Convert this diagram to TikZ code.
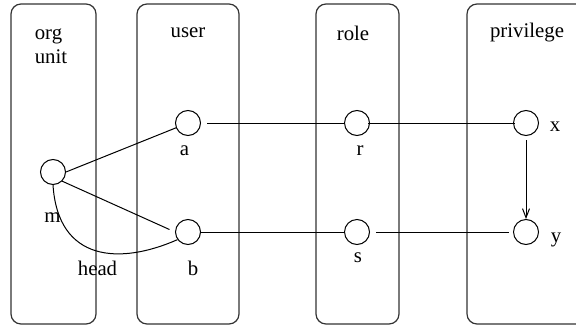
\documentclass[tikz,border=0pt]{standalone}
\usepackage{fontspec}
\setmainfont{Liberation Serif}
\usetikzlibrary{arrows.meta}
\begin{document}
\begin{tikzpicture}[x=0.5pt,y=-0.5pt,
  lane/.style={draw=black!80,line width=0.6pt,rounded corners=5pt},
  ent/.style={circle,draw,line width=0.5pt,minimum size=12.5pt,inner sep=0pt},
  lbl/.style={inner sep=0pt,font=\fontsize{10.4}{12}\selectfont},
  conn/.style={line width=0.5pt},
  every node/.style={font=\fontsize{10.4}{12}\selectfont}]
\useasboundingbox (0,0) rectangle (576,326);
\begin{scope}
\clip (0,0) rectangle (576,326);
\draw[lane] (11,4) rectangle (96,324);
\draw[lane] (137,4) rectangle (239,324);
\draw[lane] (316,4) rectangle (399,324);
\draw[lane] (467,4) rectangle (590,324);
\end{scope}
% titles
\node[lbl,align=left] (torg) at (51,46) {org\\unit};
\node[lbl] (tuser) at (188,33) {user};
\node[lbl] (trole) at (353,33) {role};
\node[lbl] (tpriv) at (527,33) {privilege};
% entities
\node[ent] (m) at (53,172) {};
\node[ent] (a) at (188,123) {};
\node[ent] (b) at (188,232) {};
\node[ent] (r) at (357,123) {};
\node[ent] (s) at (357,232) {};
\node[ent] (x) at (526,123) {};
\node[ent] (y) at (526,232) {};
% labels
\node[lbl] (lm) at (52.5,218) {m};
\node[lbl] (la) at (184.5,151) {a};
\node[lbl] (lb) at (193,268) {b};
\node[lbl] (lr) at (360,151) {r};
\node[lbl] (ls) at (358,258) {s};
\node[lbl] (lx) at (555,127) {x};
\node[lbl] (ly) at (556,240) {y};
\node[lbl] (lhead) at (97.5,268) {head};
% connectors
\draw[conn] (m.east) -- (a);
\draw[conn,shorten >=3pt] (m.-45) -- (b.west);
\draw[conn] (m.south) .. controls (58,262) and (120,265) .. (b.216);
\draw[conn,shorten <=3pt] (a) -- (r);
\draw[conn,shorten <=-1pt,shorten >=-1pt] (r) -- (x);
\draw[conn,shorten <=-0.5pt] (b) -- (s);
\draw[conn,shorten <=3pt,shorten >=2pt] (s) -- (y);
\draw[conn,shorten <=2pt,-{Straight Barb[length=4.5pt,width=3.5pt,line width=0.5pt]}] (x) -- (y);
\end{tikzpicture}
\end{document}
